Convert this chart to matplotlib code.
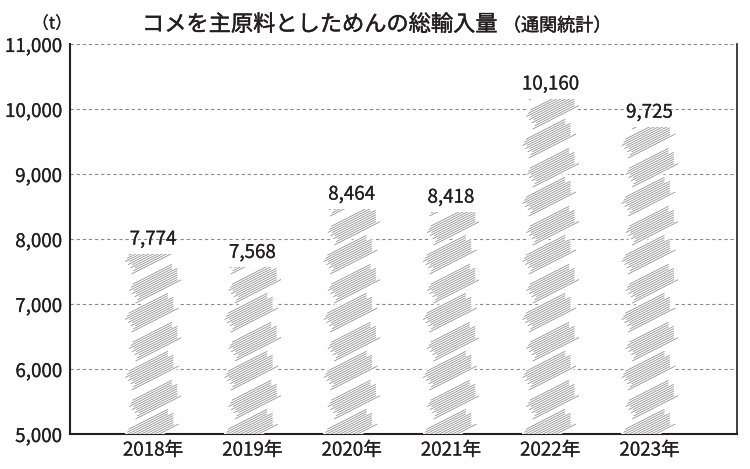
import matplotlib
matplotlib.use('Agg')
import matplotlib.pyplot as plt
import matplotlib.patheffects as pe
from matplotlib.patches import Polygon, Rectangle
from matplotlib.collections import LineCollection
from matplotlib.transforms import IdentityTransform
import numpy as np

plt.rcParams['font.family'] = ['Noto Sans CJK JP', 'DejaVu Sans']

# ---- data ----
years = ['2018年', '2019年', '2020年', '2021年', '2022年', '2023年']
values = [7774, 7568, 8464, 8418, 10160, 9725]
value_labels = ['7,774', '7,568', '8,464', '8,418', '10,160', '9,725']
yticks = [5000, 6000, 7000, 8000, 9000, 10000, 11000]
ytick_labels = ['5,000', '6,000', '7,000', '8,000', '9,000', '10,000', '11,000']
title_main = 'コメを主原料としためんの総輸入量'
title_sub = '（通関統計）'
unit_label = '（t）'

TXT = '#231f20'
light = [pe.withStroke(linewidth=0.15, foreground=TXT)]
medium = [pe.withStroke(linewidth=0.3, foreground=TXT)]

fig = plt.figure(figsize=(7.5, 4.69), dpi=100)
W, H = 750, 469
ax = fig.add_axes([70 / W, 35 / H, (737 - 70) / W, (434 - 44) / H])

x = np.arange(len(years))
bar_w = 0.57
ax.set_xlim(-0.836, 5.88)
ax.set_ylim(yticks[0], yticks[-1])

bars = ax.bar(x, values, width=bar_w, color='none', edgecolor='none', zorder=2)

# grid / spines
ax.set_yticks(yticks)
ax.set_yticklabels(ytick_labels, fontsize=13.5, color=TXT)
ax.set_xticks(x)
ax.set_xticklabels(years, fontsize=13.5, color=TXT)
for lbl in ax.get_xticklabels() + ax.get_yticklabels():
    lbl.set_path_effects(light)
ax.tick_params(axis='both', length=0)
ax.tick_params(axis='y', pad=6)
ax.tick_params(axis='x', pad=4)
ax.yaxis.grid(True, linestyle=(0, (3, 2.5)), color='#8a8a8a', linewidth=0.8)
ax.set_axisbelow(True)
ax.spines['top'].set_visible(False)
for s in ['left', 'bottom']:
    ax.spines[s].set_color(TXT)
    ax.spines[s].set_linewidth(1.5)
ax.spines['right'].set_color(TXT)
ax.spines['right'].set_linewidth(1.2)

# ---- noodle-like pattern inside each bar (decoration, derived from bar geometry) ----
ang = np.deg2rad(27)
u = np.array([np.cos(ang), np.sin(ang)])
v = np.array([-np.sin(ang), np.cos(ang)])
L, T, P = 53.0, 21.0, 29.0
nlines = 10
ybase = ax.get_ylim()[0]
for i, (xi, val) in enumerate(zip(x, values)):
    clip = Rectangle((xi - bar_w / 2, ybase), bar_w, val - ybase,
                     transform=ax.transData, facecolor='none', edgecolor='none')
    ax.add_patch(clip)
    (cx, y0) = ax.transData.transform((xi, ybase))
    (_, y1) = ax.transData.transform((xi, val))
    k = 0
    z = 3
    while True:
        cy = y0 + 6 + k * P
        if cy - 30 > y1:
            break
        dx = 2.0 if k % 2 else -2.0
        c = np.array([cx + dx, cy])
        corners = [c - u * L / 2 - v * T / 2, c + u * L / 2 - v * T / 2,
                   c + u * L / 2 + v * T / 2, c - u * L / 2 + v * T / 2]
        poly = Polygon(corners, closed=True, facecolor='white', edgecolor='white',
                       linewidth=1.0, transform=IdentityTransform(), zorder=z)
        ax.add_patch(poly)
        poly.set_clip_path(clip)
        segs = []
        for j, t in enumerate(np.linspace(-T / 2 + 1.5, T / 2 - 1.5, nlines)):
            s0 = (j * 3) % 7
            s1 = (j * 5) % 6
            a = c + v * t - u * (L / 2 - s0)
            b = c + v * t + u * (L / 2 - s1)
            segs.append([a, b])
        lc = LineCollection(segs, colors='#9a9a9a', linewidths=0.65,
                            transform=IdentityTransform(), zorder=z + 0.5)
        ax.add_collection(lc)
        lc.set_clip_path(clip)
        z += 1
        k += 1

# value labels
for xi, val, lab in zip(x, values, value_labels):
    ax.annotate(lab, (xi, val), xytext=(0, 3), textcoords='offset points',
                ha='center', va='bottom', fontsize=13.5, color=TXT, zorder=50,
                path_effects=light)

# title
fig.text(142 / W, 1 - 31 / H, title_main, fontsize=16, color=TXT,
         ha='left', va='baseline', path_effects=medium)
fig.text(503 / W, 1 - 31 / H, title_sub, fontsize=13, color=TXT,
         ha='left', va='baseline', path_effects=medium)
fig.text(52 / W, 1 - 24 / H, unit_label, fontsize=12, color=TXT,
         ha='center', va='center', path_effects=light)

fig.savefig('out.png', dpi=100)
